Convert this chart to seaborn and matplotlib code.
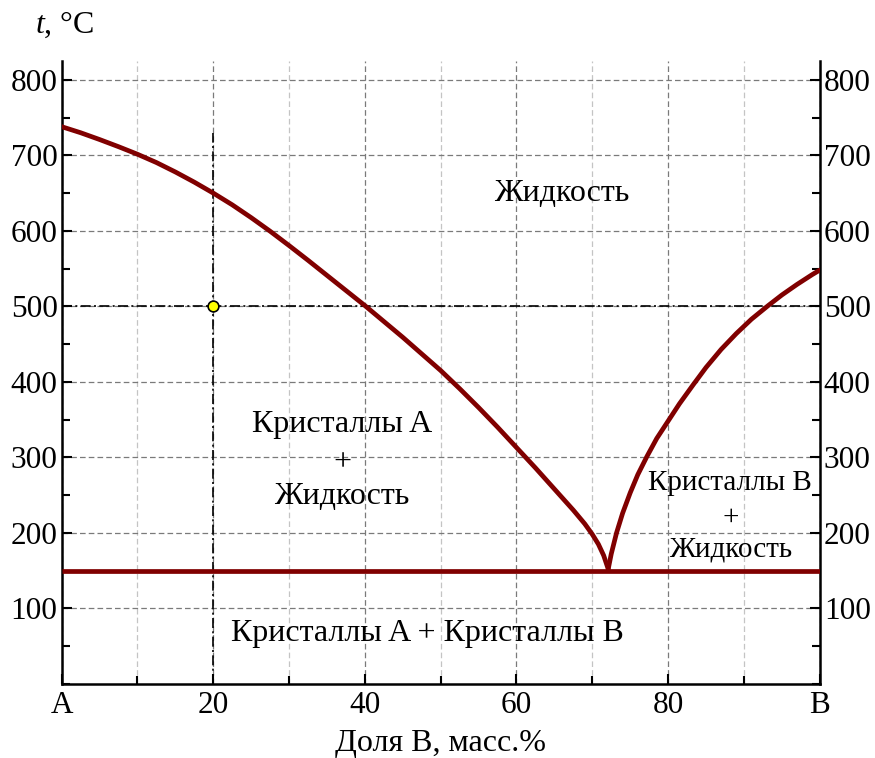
import numpy as np
import pandas as pd
import matplotlib
matplotlib.use("Agg")
import matplotlib.pyplot as plt
import seaborn as sns
from matplotlib.ticker import MultipleLocator, FixedLocator

# ---- data ----
left_x = [0, 2.5, 5, 7.5, 10, 12.5, 15, 17.5, 20, 22.5, 25, 27.5, 30, 32.5, 35, 37.5,
          40, 42.5, 45, 47.5, 50, 52.5, 55, 57.5, 60, 62.5, 65, 67.5, 69, 70, 70.8,
          71.5, 72.1]
left_y = [738, 730, 721, 711.5, 701.5, 690.5, 678, 664.5, 650, 634.5, 617.5, 599.5, 580.5,
          561, 541, 521, 501, 480, 459, 437, 415, 391, 366, 340, 313, 286, 258, 230,
          212, 198, 185, 170, 152]
right_x = [72.1, 72.5, 73.2, 74, 75, 76, 77.2, 78.5, 80, 81.5, 83.3, 85, 87, 89, 91,
           93.2, 95, 97, 99, 100]
right_y = [152, 172, 200, 226, 253, 277, 301, 325, 348, 371, 396, 419, 443, 464, 483,
           501, 515, 529, 542, 548]
eutectic_x = [0, 100]
eutectic_y = [150, 150]
point_x = [20]
point_y = [500]
vline_x = [20, 20]
vline_y = [0, 730]
hline_x = [0, 100]
hline_y = [500, 500]
xtick_vals = [0, 20, 40, 60, 80, 100]
xtick_labels = ["A", "20", "40", "60", "80", "B"]
ytick_vals = [100, 200, 300, 400, 500, 600, 700, 800]

sns.set_theme(style="white")
plt.rcParams["font.family"] = ["Liberation Serif", "DejaVu Serif"]
plt.rcParams["mathtext.fontset"] = "custom"
plt.rcParams["mathtext.it"] = "Liberation Serif:italic"
plt.rcParams["mathtext.rm"] = "Liberation Serif"
for k in ["text.color", "axes.labelcolor", "xtick.color", "ytick.color",
          "xtick.labelcolor", "ytick.labelcolor"]:
    plt.rcParams[k] = "black"

fig = plt.figure(figsize=(8.75, 7.58), dpi=100)
ax = fig.add_axes([0.0705, 0.0979, 0.8663, 0.8216])

ax.set_xlim(0, 100)
ax.set_ylim(0, 825)

# grid
ax.set_axisbelow(True)
ax.xaxis.set_major_locator(FixedLocator(xtick_vals))
ax.xaxis.set_minor_locator(MultipleLocator(10))
ax.yaxis.set_major_locator(FixedLocator(ytick_vals))
ax.yaxis.set_minor_locator(MultipleLocator(50))
ax.xaxis.grid(True, which="major", color="#7a7a7a", linestyle=(0, (4.5, 2.5)), lw=0.9)
ax.xaxis.grid(True, which="minor", color="#c4c4c4", linestyle=(0, (4.5, 2.5)), lw=0.9)
ax.yaxis.grid(True, which="major", color="#7a7a7a", linestyle=(0, (4.5, 2.5)), lw=0.9)
ax.yaxis.grid(False, which="minor")

# dash-dot guide lines
dd = (0, (6, 2, 1.2, 2))
ax.plot(vline_x, vline_y, color="black", lw=1.2, linestyle=dd, zorder=2)
ax.plot(hline_x, hline_y, color="black", lw=1.2, linestyle=dd, zorder=2)

red = "#800000"
df_l = pd.DataFrame({"x": left_x, "y": left_y})
df_r = pd.DataFrame({"x": right_x, "y": right_y})
df_e = pd.DataFrame({"x": eutectic_x, "y": eutectic_y})
for d in (df_l, df_r, df_e):
    sns.lineplot(data=d, x="x", y="y", sort=False, estimator=None, color=red,
                 lw=3.4, ax=ax, zorder=3)
for ln in ax.lines[-3:]:
    ln.set_solid_joinstyle("round")
ax.lines[-1].set_solid_capstyle("butt")

sns.scatterplot(x=point_x, y=point_y, color="#ffff00", edgecolor="black",
                linewidth=1.2, s=60, ax=ax, zorder=5)

# ticks
ax.set_xticks(xtick_vals)
ax.set_xticklabels(xtick_labels)
ax.tick_params(which="both", direction="in", left=True, right=True, bottom=True,
               top=False, labelright=True, labelleft=True, width=1.5, color="black")
ax.tick_params(which="major", length=7, labelsize=22.5, pad=3)
ax.tick_params(which="minor", length=6)
ax.tick_params(axis="x", which="major", pad=5)

for s in ["left", "right", "bottom"]:
    ax.spines[s].set_visible(True)
    ax.spines[s].set_linewidth(1.8)
    ax.spines[s].set_color("black")
ax.spines["top"].set_visible(False)

ax.set_xlabel("Доля B, масс.%", fontsize=23, labelpad=7)
ax.set_ylabel("")
fig.text(0.040, 0.967, "$t$, °C", fontsize=23, ha="left", va="center")

fs = 23
fs2 = 21
ax.text(66.0, 650, "Жидкость", fontsize=fs, ha="center", va="center")
ax.text(37.0, 343, "Кристаллы A", fontsize=fs, ha="center", va="center")
ax.text(37.0, 293, "+", fontsize=fs, ha="center", va="center")
ax.text(37.0, 248, "Жидкость", fontsize=fs, ha="center", va="center")
ax.text(88.2, 266, "Кристаллы B", fontsize=fs2, ha="center", va="center")
ax.text(88.2, 220, "+", fontsize=fs2, ha="center", va="center")
ax.text(88.2, 178, "Жидкость", fontsize=fs2, ha="center", va="center")
ax.text(48.2, 66, "Кристаллы A + Кристаллы B", fontsize=fs, ha="center", va="center")

fig.savefig("out.png", dpi=100)
